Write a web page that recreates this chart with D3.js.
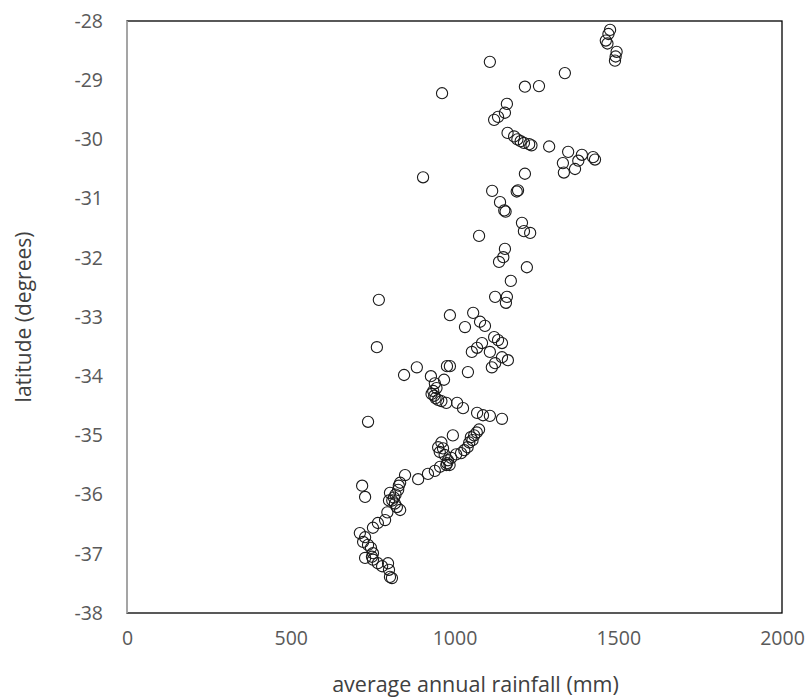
<!DOCTYPE html>
<html><head><meta charset="utf-8">
<script src="https://cdn.jsdelivr.net/npm/d3@7"></script>
<style>body{margin:0;background:#fff}svg{display:block}</style>
</head><body>
<script>
const rainfall = [1475,1470,1462,1467,1495,1492,1490,
1108,1337,962,1215,1258,1160,1154,1133,1121,1162,1182,1192,1202,1212,1228,1235,1289,
1347,1389,1423,1429,1378,1331,1368,1334,
904,1215,1115,1194,1190,1139,1152,1156,1075,1206,1212,1231,1154,1149,1136,1221,1172,
769,1124,1160,1157,986,1057,1032,1078,1093,1121,1133,1145,1084,1069,1053,1108,1145,1163,1124,1114,
763,846,885,928,968,977,986,1041,
940,945,935,930,938,942,950,960,975,1008,1026,736,1069,1087,1108,1145,
1075,1068,1060,1050,1055,1045,1040,1030,1020,1005,995,990,980,975,985,960,965,955,970,950,
977,956,940,919,889,849,834,830,828,820,815,810,818,824,834,803,800,795,788,766,751,
718,727,711,727,721,736,745,751,727,748,751,766,779,797,800,803,809];
const latitude = [-28.15,-28.22,-28.33,-28.38,-28.52,-28.6,-28.67,
-28.69,-28.88,-29.22,-29.11,-29.1,-29.4,-29.55,-29.62,-29.67,-29.89,-29.95,-30.0,-30.03,-30.06,-30.08,-30.1,-30.12,
-30.21,-30.26,-30.3,-30.34,-30.36,-30.4,-30.5,-30.56,
-30.64,-30.58,-30.87,-30.86,-30.88,-31.06,-31.2,-31.22,-31.63,-31.41,-31.55,-31.58,-31.85,-31.99,-32.07,-32.16,-32.39,
-32.71,-32.66,-32.66,-32.76,-32.97,-32.93,-33.17,-33.08,-33.15,-33.34,-33.39,-33.44,-33.44,-33.52,-33.59,-33.59,-33.68,-33.73,-33.78,-33.85,
-33.51,-33.98,-33.85,-34.0,-34.06,-33.83,-33.83,-33.93,
-34.12,-34.2,-34.25,-34.3,-34.33,-34.37,-34.4,-34.42,-34.45,-34.45,-34.54,-34.77,-34.62,-34.66,-34.67,-34.72,
-34.9,-34.95,-35.0,-35.03,-35.08,-35.12,-35.2,-35.25,-35.3,-35.32,-35.0,-35.38,-35.42,-35.5,-35.5,-35.12,-35.22,-35.28,-35.33,-35.2,
-35.47,-35.53,-35.6,-35.65,-35.74,-35.67,-35.8,-35.85,-35.92,-36.0,-36.05,-36.1,-36.15,-36.21,-36.26,-35.97,-36.1,-36.3,-36.43,-36.48,-36.56,
-35.85,-36.04,-36.65,-36.72,-36.8,-36.85,-36.9,-36.99,-37.07,-37.05,-37.1,-37.16,-37.21,-37.16,-37.27,-37.39,-37.41];
const xTicks = [0,500,1000,1500,2000];
const yTicks = [-28,-29,-30,-31,-32,-33,-34,-35,-36,-37,-38];
const xTitle = "average annual rainfall (mm)";
const yTitle = "latitude (degrees)";

const W = 808, H = 699;
const m = {left:127, right:26, top:21, bottom:86};
const svg = d3.select("body").append("svg").attr("width",W).attr("height",H);
const x = d3.scaleLinear().domain([0,2000]).range([m.left, W-m.right]);
const y = d3.scaleLinear().domain([-38,-28]).range([H-m.bottom, m.top]);
const font = "'Open Sans', sans-serif";

// plot frame
svg.append("rect").attr("x",x(0)).attr("y",y(-28)).attr("width",x(2000)-x(0)).attr("height",y(-38)-y(-28))
  .attr("fill","none").attr("stroke","#000").attr("stroke-width",1.3);
svg.append("line").attr("x1",x(0)).attr("x2",x(0)).attr("y1",y(-28)).attr("y2",y(-38))
  .attr("stroke","#bfbfbf").attr("stroke-width",1.5);

const xAxis = svg.append("g").attr("transform",`translate(0,${y(-38)})`)
  .call(d3.axisBottom(x).tickValues(xTicks).tickSize(0).tickPadding(18).tickFormat(d3.format("d")));
const yAxis = svg.append("g").attr("transform",`translate(${x(0)},0)`)
  .call(d3.axisLeft(y).tickValues(yTicks).tickSize(0).tickPadding(24).tickFormat(d=>String(d).replace("\u2212","-")));
[xAxis,yAxis].forEach(g=>{
  g.select(".domain").remove();
  g.selectAll("text").attr("font-family",font).attr("font-size",19.5).attr("fill","#595959");
});

svg.append("g").selectAll("circle").data(rainfall.map((r,i)=>[r,latitude[i]])).join("circle")
  .attr("cx",d=>x(d[0])).attr("cy",d=>y(d[1])).attr("r",5.6)
  .attr("fill","none").attr("stroke","#1a1a1a").attr("stroke-width",1.1);

svg.append("text").attr("x",(x(0)+x(2000))/2 + 21).attr("y",692).attr("text-anchor","middle")
  .attr("font-family",font).attr("font-size",21.5).attr("fill","#404040").text(xTitle);
svg.append("text").attr("transform",`translate(31,${(y(-28)+y(-38))/2}) rotate(-90)`).attr("text-anchor","middle")
  .attr("font-family",font).attr("font-size",21).attr("fill","#404040").text(yTitle);
</script>
</body></html>
